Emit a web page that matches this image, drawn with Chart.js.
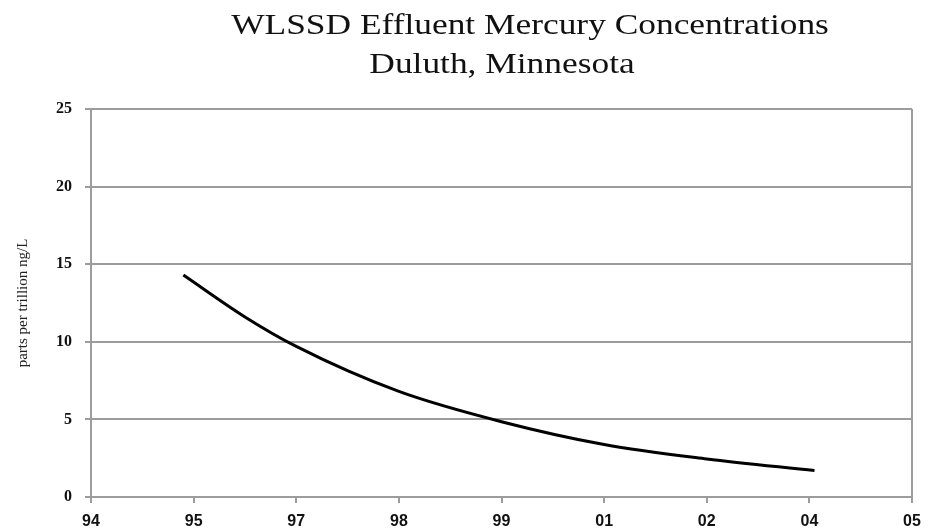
<!DOCTYPE html>
<html>
  <head>
    <meta charset="utf-8">
    <title>WLSSD Effluent Mercury Concentrations</title>
    <script src="https://cdn.jsdelivr.net/npm/chart.js"></script>
    <style>
    html, body { margin: 0; padding: 0; background: #fff; }
    #wrap { width: 933px; height: 531px; }
  </style>
  </head>
  <body>
    <div id="wrap"><canvas id="hgChart"></canvas></div>
    <script>
    // x axis labels (evenly spaced, as on the original)
    const yearLabels = ["94", "95", "97", "98", "99", "01", "02", "04", "05"];
    // position of each reading along that axis (0 = "94", 8 = "05")
    const xPositions = [0.9, 1.5, 2, 3, 4, 5, 6, 7.05];
    // mercury, parts per trillion ng/L
    const mercury = [14.3, 11.6, 9.7, 6.8, 4.85, 3.38, 2.45, 1.7];
    const yTicks = [0, 5, 10, 15, 20, 25];
    const titleLines = ["WLSSD Effluent Mercury Concentrations", "Duluth, Minnesota"];

    const gridGray = "#9c9c9c";

    // title drawn by hand so it can be stretched a bit like the source image
    const stretchedTitle = {
      id: "stretchedTitle",
      afterDraw(chart) {
        const ctx = chart.ctx;
        const spots = [[530, 26], [502, 65]];
        ctx.save();
        ctx.font = '29px "Liberation Serif", "Times New Roman", serif';
        ctx.fillStyle = "#111";
        ctx.textAlign = "center";
        ctx.textBaseline = "middle";
        titleLines.forEach((txt, i) => {
          ctx.save();
          ctx.translate(spots[i][0], spots[i][1]);
          ctx.scale(1.22, 1);
          ctx.fillText(txt, 0, 0);
          ctx.restore();
        });
        ctx.restore();
      }
    };

    const ctx = document.getElementById("hgChart").getContext("2d");
    new Chart(ctx, {
      type: "line",
      data: {
        datasets: [
          {
            label: "Effluent mercury",
            data: xPositions.map((x, i) => ({ x: x, y: mercury[i] })),
            borderColor: "#000",
            borderWidth: 3,
            pointRadius: 0,
            fill: false,
            cubicInterpolationMode: "monotone"
          }
        ]
      },
      plugins: [stretchedTitle],
      options: {
        responsive: true,
        maintainAspectRatio: false,
        animation: false,
        layout: { padding: { top: 109, right: 21, left: 0, bottom: 0 } },
        plugins: {
          legend: { display: false },
          tooltip: { enabled: false }
        },
        scales: {
          x: {
            type: "linear",
            min: 0,
            max: yearLabels.length - 1,
            afterBuildTicks: (s) => { s.ticks = yearLabels.map((_, i) => ({ value: i })); },
            afterFit: (s) => { s.height = 34; },
            ticks: {
              autoSkip: false,
              maxRotation: 0,
              padding: 9,
              color: "#111",
              font: { family: '"Liberation Sans", Arial, sans-serif', size: 16, weight: "bold" },
              callback: (v) => yearLabels[v]
            },
            grid: {
              drawOnChartArea: true,
              lineWidth: 2,
              color: (c) => (c.index === yearLabels.length - 1 ? gridGray : "rgba(0,0,0,0)"),
              tickColor: gridGray,
              tickLength: 6
            },
            border: { color: gridGray, width: 2 }
          },
          y: {
            min: 0,
            max: 25,
            afterBuildTicks: (s) => { s.ticks = yTicks.map((v) => ({ value: v })); },
            afterFit: (s) => { s.width = 91; },
            ticks: {
              padding: 13,
              color: "#111",
              font: { family: '"Liberation Serif", "Times New Roman", serif', size: 16, weight: "bold" }
            },
            grid: {
              lineWidth: 2,
              color: gridGray,
              tickColor: gridGray,
              tickLength: 6
            },
            border: { color: gridGray, width: 2 },
            title: {
              display: true,
              text: "parts per trillion ng/L",
              color: "#222",
              padding: { top: 14, bottom: 0 },
              font: { family: '"Liberation Serif", "Times New Roman", serif', size: 15 }
            }
          }
        }
      }
    });
  </script>
  </body>
</html>
